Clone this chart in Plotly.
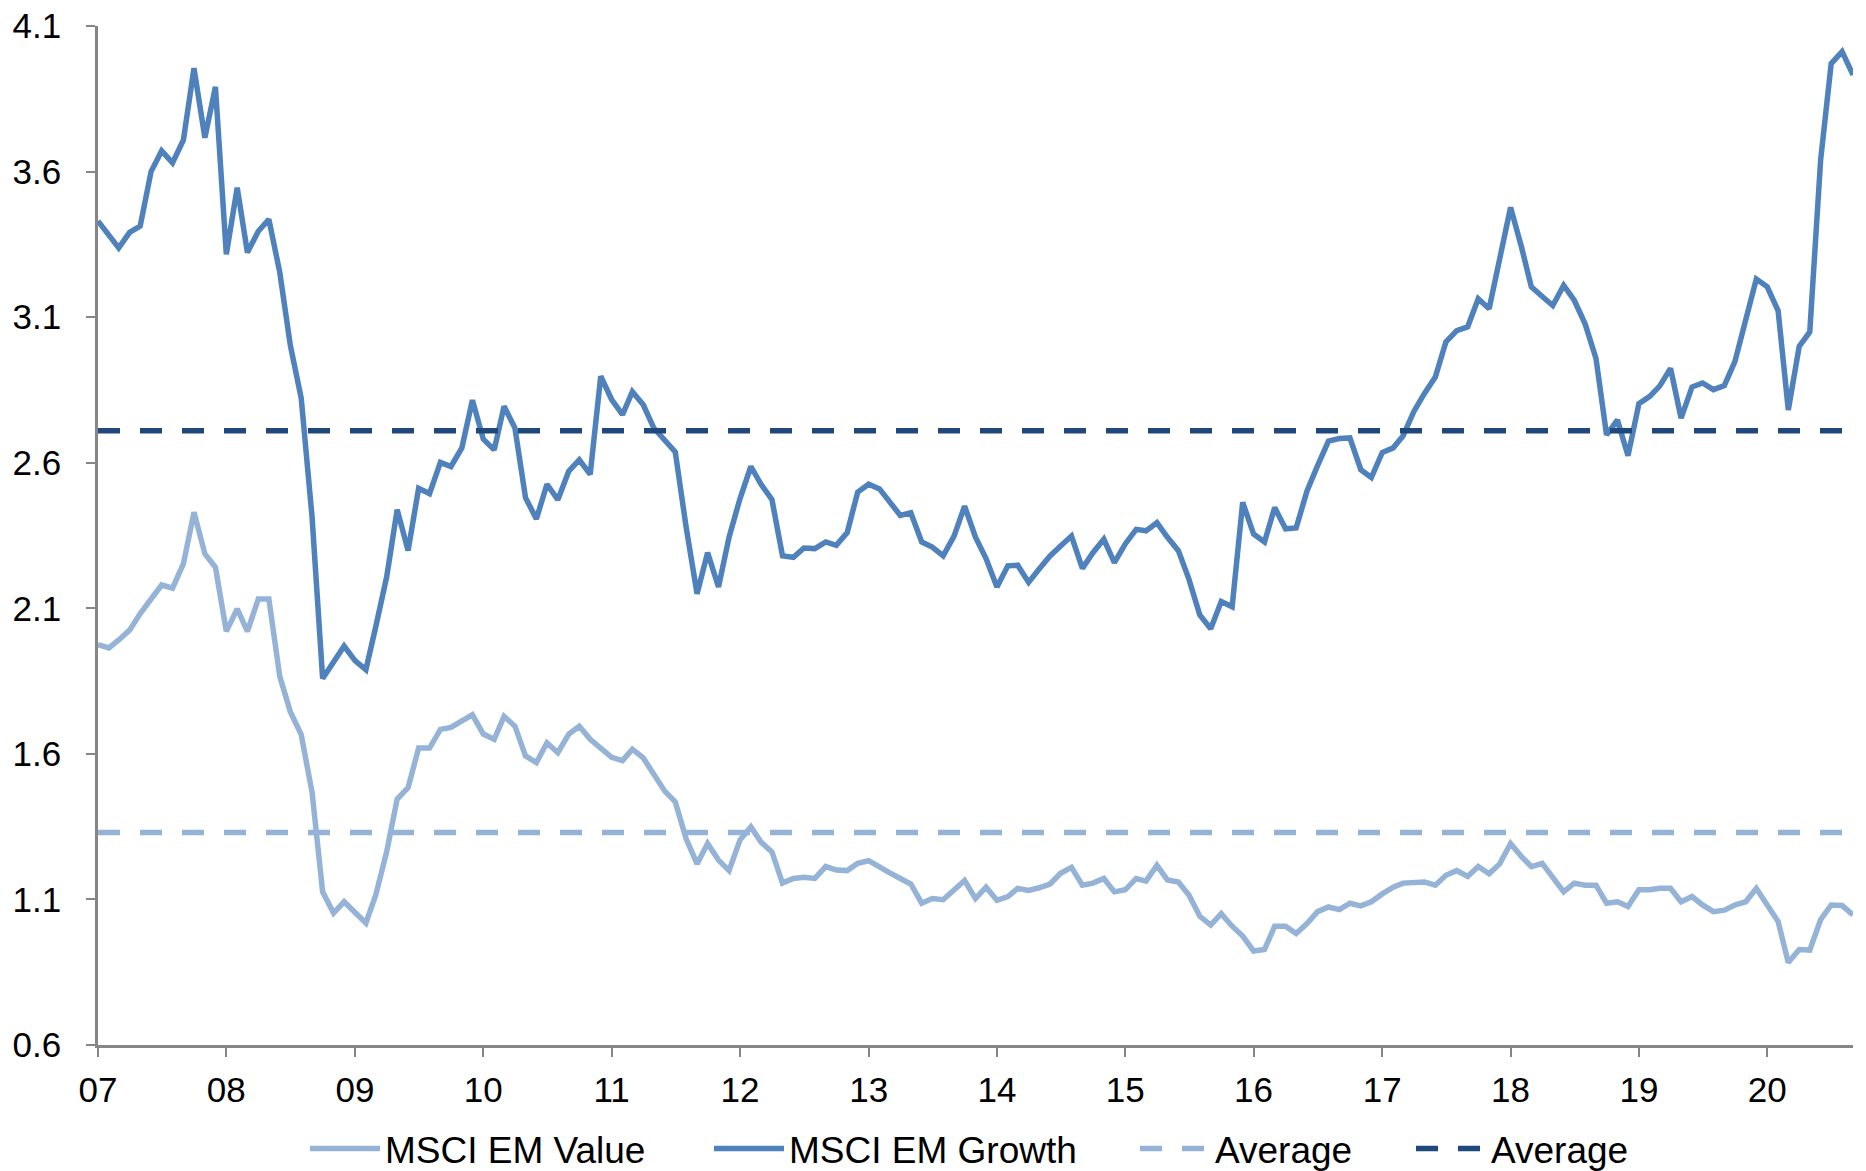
import pandas as pd
import plotly.graph_objects as go

# Monthly 12m forward P/B, Jan 2007 - Sep 2020
months = pd.date_range("2007-01-01", periods=165, freq="MS")

msci_em_growth = [
    3.430, 3.384, 3.338, 3.391, 3.413, 3.600, 3.671, 3.630, 3.709, 3.955,
    3.716, 3.891, 3.316, 3.545, 3.322, 3.395, 3.436, 3.254, 3.004, 2.822,
    2.412, 1.859, 1.920, 1.970, 1.920, 1.889, 2.036, 2.207, 2.439, 2.298,
    2.512, 2.494, 2.601, 2.587, 2.651, 2.815, 2.681, 2.644, 2.794, 2.719,
    2.480, 2.407, 2.526, 2.473, 2.571, 2.610, 2.560, 2.897, 2.817, 2.765,
    2.844, 2.799, 2.719, 2.674, 2.637, 2.378, 2.150, 2.291, 2.173, 2.344,
    2.476, 2.587, 2.526, 2.473, 2.280, 2.275, 2.307, 2.305, 2.328, 2.316,
    2.360, 2.499, 2.526, 2.510, 2.469, 2.419, 2.428, 2.328, 2.310, 2.280,
    2.348, 2.451, 2.344, 2.271, 2.173, 2.246, 2.248, 2.189, 2.235, 2.280,
    2.314, 2.348, 2.237, 2.291, 2.337, 2.257, 2.321, 2.371, 2.366, 2.394,
    2.344, 2.298, 2.200, 2.077, 2.030, 2.123, 2.105, 2.464, 2.355, 2.328,
    2.446, 2.373, 2.376, 2.503, 2.590, 2.674, 2.683, 2.685, 2.576, 2.549,
    2.635, 2.651, 2.692, 2.776, 2.838, 2.894, 3.015, 3.054, 3.067, 3.163,
    3.129, 3.311, 3.477, 3.341, 3.204, 3.171, 3.140, 3.209, 3.158, 3.077,
    2.958, 2.696, 2.747, 2.624, 2.803, 2.828, 2.863, 2.924, 2.753, 2.860,
    2.874, 2.851, 2.865, 2.947, 3.083, 3.231, 3.204, 3.122, 2.781, 3.000,
    3.049, 3.641, 3.971, 4.012, 3.932,
]

msci_em_value = [
    1.975, 1.964, 1.991, 2.025, 2.082, 2.134, 2.180, 2.169, 2.253, 2.430,
    2.287, 2.241, 2.021, 2.098, 2.021, 2.132, 2.132, 1.866, 1.745, 1.666,
    1.467, 1.126, 1.053, 1.092, 1.053, 1.019, 1.115, 1.263, 1.445, 1.484,
    1.620, 1.620, 1.684, 1.691, 1.713, 1.734, 1.668, 1.650, 1.729, 1.695,
    1.593, 1.570, 1.638, 1.604, 1.668, 1.695, 1.650, 1.622, 1.588, 1.577,
    1.616, 1.586, 1.531, 1.472, 1.435, 1.308, 1.222, 1.292, 1.235, 1.199,
    1.304, 1.349, 1.297, 1.263, 1.156, 1.172, 1.176, 1.172, 1.213, 1.201,
    1.199, 1.224, 1.233, 1.210, 1.192, 1.172, 1.153, 1.087, 1.103, 1.099,
    1.133, 1.165, 1.103, 1.142, 1.097, 1.110, 1.138, 1.131, 1.140, 1.153,
    1.190, 1.210, 1.149, 1.156, 1.172, 1.126, 1.133, 1.172, 1.163, 1.217,
    1.167, 1.160, 1.115, 1.042, 1.012, 1.051, 1.008, 0.974, 0.923, 0.928,
    1.008, 1.008, 0.983, 1.017, 1.058, 1.074, 1.065, 1.087, 1.078, 1.092,
    1.119, 1.142, 1.156, 1.156, 1.160, 1.149, 1.183, 1.199, 1.179, 1.213,
    1.188, 1.222, 1.292, 1.247, 1.213, 1.224, 1.179, 1.126, 1.156, 1.149,
    1.149, 1.087, 1.092, 1.076, 1.133, 1.133, 1.138, 1.138, 1.092, 1.110,
    1.081, 1.058, 1.063, 1.081, 1.092, 1.138, 1.081, 1.024, 0.883, 0.928,
    0.926, 1.031, 1.081, 1.079, 1.047,
]

value_average = 1.33
growth_average = 2.71

year_ticks = pd.date_range("2007-01-01", "2020-01-01", freq="YS")
year_labels = [f"{d.year % 100:02d}" for d in year_ticks]
y_ticks = [0.6, 1.1, 1.6, 2.1, 2.6, 3.1, 3.6, 4.1]

FONT = "Liberation Sans, Arial, sans-serif"
LIGHT = "#95B3D7"
MID = "#4F81BD"
DARK = "#1F497D"
AXIS = "#868686"
DASH = "22px,20px"
LW = 5.5

fig = go.Figure()
fig.add_trace(go.Scatter(x=months, y=msci_em_value, mode="lines", name="MSCI EM Value",
                         line=dict(color=LIGHT, width=LW), legend="legend"))
fig.add_trace(go.Scatter(x=months, y=msci_em_growth, mode="lines", name="MSCI EM Growth",
                         line=dict(color=MID, width=LW), legend="legend2"))
fig.add_trace(go.Scatter(x=[months[0], months[-1]], y=[value_average] * 2, mode="lines",
                         name="Average", line=dict(color=LIGHT, width=LW, dash=DASH),
                         legend="legend3"))
fig.add_trace(go.Scatter(x=[months[0], months[-1]], y=[growth_average] * 2, mode="lines",
                         name="Average", line=dict(color=DARK, width=LW, dash=DASH),
                         legend="legend4"))

W, H = 1866, 1171


def legend_box(x_px):
    return dict(
        x=x_px / W, xref="container", xanchor="left",
        y=1 - 1149 / H, yref="container", yanchor="middle",
        orientation="h", bgcolor="rgba(0,0,0,0)", borderwidth=0,
        itemwidth=70, font=dict(family=FONT, size=37, color="#000000"),
    )


fig.update_layout(
    width=W, height=H,
    margin=dict(l=98, r=13, t=26, b=126),
    paper_bgcolor="white", plot_bgcolor="white",
    font=dict(family=FONT, size=35, color="#000000"),
    showlegend=True,
    legend=legend_box(305),
    legend2=legend_box(709),
    legend3=legend_box(1135),
    legend4=legend_box(1411),
    xaxis=dict(
        range=[months[0], months[-1]], tickvals=year_ticks, ticktext=year_labels,
        showgrid=False, zeroline=False, showline=True, linecolor=AXIS, linewidth=2.5,
        ticks="outside", ticklen=9, tickwidth=2, tickcolor=AXIS,
        tickfont=dict(family=FONT, size=35, color="#000000"), ticklabelstandoff=3,
        automargin=False,
    ),
    yaxis=dict(
        range=[0.6, 4.1], tickvals=y_ticks, tickformat=".1f",
        showgrid=False, zeroline=False, showline=True, linecolor=AXIS, linewidth=2.5,
        ticks="outside", ticklen=9, tickwidth=2, tickcolor=AXIS,
        tickfont=dict(family=FONT, size=35, color="#000000"), ticklabelstandoff=18,
        automargin=False,
    ),
)

fig.write_html("out.html")
